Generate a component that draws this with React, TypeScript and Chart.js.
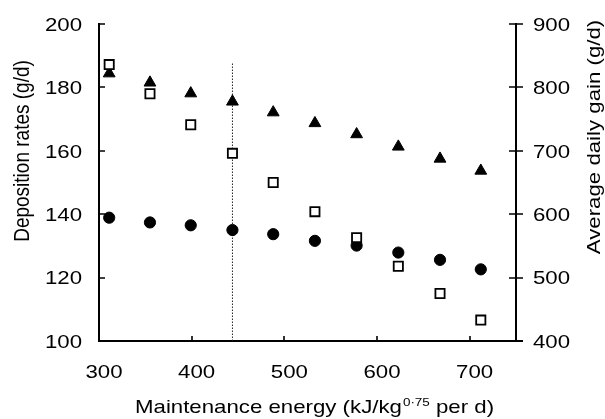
import React, { useEffect, useRef } from "react";
import { Chart, registerables } from "chart.js";

Chart.register(...registerables);

// ---- Data ----
const energy = [311, 355, 399, 444, 488, 533, 578, 623, 668, 712];
// filled circles (left axis, g/d)
const circleDeposition = [138.9, 137.4, 136.5, 135.0, 133.7, 131.6, 130.1, 127.9, 125.6, 122.6];
// filled triangles (left axis, g/d)
const triangleDeposition = [184.4, 181.5, 178.1, 175.5, 172.1, 168.7, 165.2, 161.3, 157.5, 153.7];
// open squares (right axis, average daily gain g/d)
const averageDailyGain = [836, 790, 741, 696, 650, 604, 563, 518, 475, 433];

const xTicks = [300, 400, 500, 600, 700];
const leftTicks = [100, 120, 140, 160, 180, 200];
const rightTicks = [400, 500, 600, 700, 800, 900];

const referenceEnergy = 444;
const referenceTop = 187.6;

const xTitleMain = "Maintenance energy (kJ/kg";
const xTitleSup = "0·75";
const xTitleEnd = " per d)";
const leftTitle = "Deposition rates (g/d)";
const rightTitle = "Average daily gain (g/d)";

const FONT = "'Liberation Sans', Arial, Helvetica, sans-serif";
const SIZE = 19;
const SX = 1.17;

function drawText(
  ctx: CanvasRenderingContext2D,
  text: string,
  x: number,
  y: number,
  opts: { size?: number; align?: CanvasTextAlign; sx?: number; sy?: number; rotate?: number } = {}
) {
  const { size = SIZE, align = "left", sx = 1, sy = 1, rotate = 0 } = opts;
  ctx.save();
  ctx.translate(x, y);
  if (rotate) ctx.rotate(rotate);
  ctx.scale(sx, sy);
  ctx.font = `${size}px ${FONT}`;
  ctx.textAlign = align;
  ctx.textBaseline = "alphabetic";
  ctx.fillStyle = "#000";
  ctx.fillText(text, 0, 0);
  ctx.restore();
}

const axesPlugin = {
  id: "customAxes",
  beforeDatasetsDraw(chart: any) {
    const ctx: CanvasRenderingContext2D = chart.ctx;
    const sx = chart.scales.x;
    const sy = chart.scales.y;
    const sy1 = chart.scales.y1;
    const left = Math.round(sx.left);
    const right = Math.round(sx.right);
    const top = Math.round(sy.top);
    const bottom = Math.round(sy.bottom);
    ctx.save();
    ctx.strokeStyle = "#000";
    ctx.lineWidth = 2;
    ctx.beginPath();
    ctx.moveTo(left, top - 1);
    ctx.lineTo(left, bottom + 1);
    ctx.moveTo(left - 1, bottom);
    ctx.lineTo(right + 7, bottom);
    ctx.moveTo(right, top - 1);
    ctx.lineTo(right, bottom);
    ctx.stroke();
    ctx.lineWidth = 1.6;
    ctx.beginPath();
    for (const t of sy.ticks) {
      const py = Math.round(sy.getPixelForValue(t.value));
      ctx.moveTo(left, py);
      ctx.lineTo(left + 6, py);
    }
    for (const t of sy1.ticks) {
      const py = Math.round(sy1.getPixelForValue(t.value));
      ctx.moveTo(right - 7, py);
      ctx.lineTo(right + 7, py);
    }
    for (const t of sx.ticks) {
      const px = Math.round(sx.getPixelForValue(t.value));
      ctx.moveTo(px, bottom);
      ctx.lineTo(px, bottom - 5);
    }
    ctx.stroke();
    ctx.restore();
  },
  afterDraw(chart: any) {
    const ctx: CanvasRenderingContext2D = chart.ctx;
    const sx = chart.scales.x;
    const sy = chart.scales.y;
    const sy1 = chart.scales.y1;
    const left = sx.left;
    const right = sx.right;
    const bottom = sy.bottom;
    const cap = SIZE * 0.716;
    for (const t of sy.ticks) {
      const py = sy.getPixelForValue(t.value);
      drawText(ctx, String(t.value), left - 17, py + cap / 2, { align: "right", sx: SX });
    }
    for (const t of sy1.ticks) {
      const py = sy1.getPixelForValue(t.value);
      drawText(ctx, String(t.value), right + 17, py + cap / 2, { align: "left", sx: SX });
    }
    for (const t of sx.ticks) {
      const px = sx.getPixelForValue(t.value);
      drawText(ctx, String(t.value), px + 5, bottom + 37, { align: "center", sx: SX });
    }
    // x title with superscript
    ctx.save();
    ctx.font = `${SIZE}px ${FONT}`;
    const w1 = ctx.measureText(xTitleMain).width * SX;
    ctx.font = `11.5px ${FONT}`;
    const w2 = ctx.measureText(xTitleSup).width * SX;
    ctx.restore();
    const tx = 135;
    const ty = bottom + 72;
    drawText(ctx, xTitleMain, tx, ty, { sx: SX });
    drawText(ctx, xTitleSup, tx + w1 + 1, ty - 7, { sx: SX, size: 11.5 });
    drawText(ctx, xTitleEnd, tx + w1 + w2 + 1, ty, { sx: SX });
    // y titles (rotated)
    drawText(ctx, leftTitle, 28.5, 151, { align: "center", rotate: -Math.PI / 2, sy: SX });
    drawText(ctx, rightTitle, 600, 137, { align: "center", rotate: -Math.PI / 2, sx: 1.17 });
  },
};

export default function App() {
  const ref = useRef<HTMLCanvasElement | null>(null);
  useEffect(() => {
    if (!ref.current) return;
    const chart = new Chart(ref.current, {
      type: "scatter",
      data: {
        datasets: [
          {
            label: "reference",
            data: [
              { x: referenceEnergy, y: 100 },
              { x: referenceEnergy, y: referenceTop },
            ],
            showLine: true,
            borderColor: "#222",
            borderWidth: 1,
            borderDash: [1.5, 1.5],
            pointRadius: 0,
            yAxisID: "y",
            order: 10,
          },
          {
            label: "circles",
            data: energy.map((x, i) => ({ x, y: circleDeposition[i] })),
            pointStyle: "circle",
            pointRadius: 5.6,
            backgroundColor: "#000",
            borderColor: "#000",
            borderWidth: 1,
            yAxisID: "y",
            order: 1,
          },
          {
            label: "triangles",
            data: energy.map((x, i) => ({ x, y: triangleDeposition[i] })),
            pointStyle: "triangle",
            pointRadius: 6.8,
            backgroundColor: "#000",
            borderColor: "#000",
            borderWidth: 1,
            yAxisID: "y",
            order: 1,
          },
          {
            label: "squares",
            data: energy.map((x, i) => ({ x, y: averageDailyGain[i] })),
            pointStyle: "rect",
            pointRadius: 6.5,
            backgroundColor: "#fff",
            borderColor: "#000",
            borderWidth: 1.8,
            yAxisID: "y1",
            order: 0,
          },
        ],
      },
      options: {
        responsive: false,
        animation: false,
        events: [],
        layout: { padding: { left: 0, right: 0, top: 24, bottom: 0 } },
        plugins: { legend: { display: false }, tooltip: { enabled: false } },
        scales: {
          x: {
            type: "linear",
            position: "bottom",
            min: 300,
            max: 750,
            grid: { display: false },
            border: { display: false },
            ticks: { display: false },
            afterBuildTicks: (s: any) => {
              s.ticks = xTicks.map((v) => ({ value: v }));
            },
            afterFit: (s: any) => {
              s.height = 78;
            },
          },
          y: {
            type: "linear",
            position: "left",
            min: 100,
            max: 200,
            grid: { display: false },
            border: { display: false },
            ticks: { display: false },
            afterBuildTicks: (s: any) => {
              s.ticks = leftTicks.map((v) => ({ value: v }));
            },
            afterFit: (s: any) => {
              s.width = 99;
            },
          },
          y1: {
            type: "linear",
            position: "right",
            min: 400,
            max: 900,
            grid: { display: false },
            border: { display: false },
            ticks: { display: false },
            afterBuildTicks: (s: any) => {
              s.ticks = rightTicks.map((v) => ({ value: v }));
            },
            afterFit: (s: any) => {
              s.width = 89;
            },
          },
        },
      },
      plugins: [axesPlugin],
    });
    return () => chart.destroy();
  }, []);
  return (
    <div style={{ position: "absolute", left: 0, top: 0, width: 605, height: 419, background: "#fff" }}>
      <canvas ref={ref} width={605} height={419} style={{ display: "block", width: 605, height: 419 }} />
    </div>
  );
}
